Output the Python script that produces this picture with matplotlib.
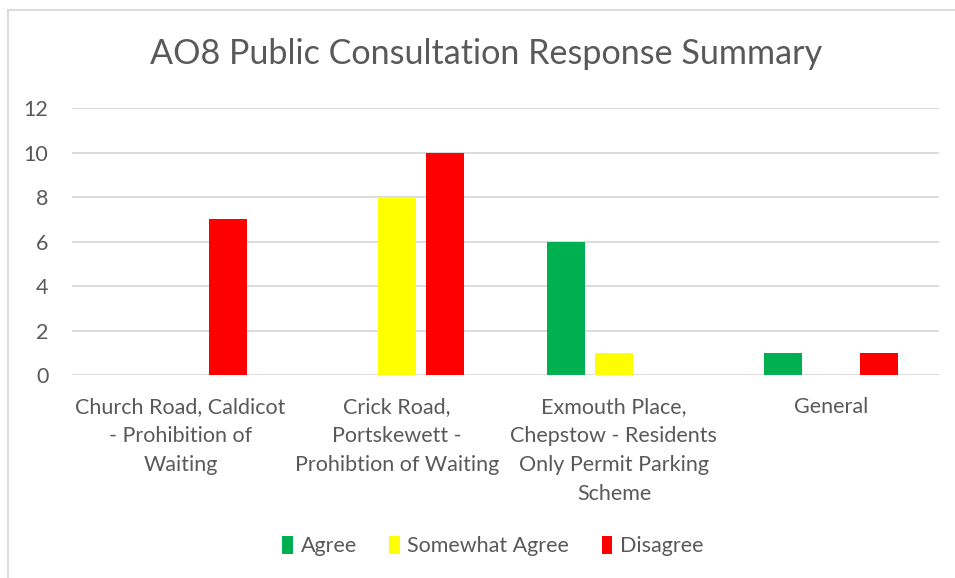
import numpy as np
import matplotlib.pyplot as plt
from matplotlib.lines import Line2D

plt.rcParams['font.family'] = ['Lato', 'DejaVu Sans']

categories = ['Church Road, Caldicot\n- Prohibition of\nWaiting',
              'Crick Road,\nPortskewett -\nProhibtion of Waiting',
              'Exmouth Place,\nChepstow - Residents\nOnly Permit Parking\nScheme',
              'General']
agree = [0, 0, 6, 1]
somewhat = [0, 8, 1, 0]
disagree = [7, 10, 0, 1]
series = ['Agree', 'Somewhat Agree', 'Disagree']
colors = ['#00B050', '#FFFF00', '#FF0000']

txt = '#595959'
fig = plt.figure(figsize=(9.55, 5.78), dpi=100)
ax = fig.add_axes([0.0754, 0.3512, 0.9079, 0.4619])

x = np.arange(len(categories))
w = 0.175
step = 0.2215
for i, (vals, lab, c) in enumerate(zip([agree, somewhat, disagree], series, colors)):
    ax.bar(x + (i - 1) * step, vals, w, color=c, label=lab, zorder=3)

ax.set_xlim(-0.5, 3.5)
ax.set_ylim(0, 12)
ax.set_yticks(range(0, 13, 2))
ax.set_xticks(x)
ax.set_xticklabels(categories, fontsize=15.5, color=txt, linespacing=1.55)
ax.tick_params(axis='y', labelsize=15.5, labelcolor=txt, length=0, pad=17)
ax.tick_params(axis='x', length=0, pad=16)
ax.grid(axis='y', color='#D9D9D9', linewidth=1.3, zorder=0)
for s in ax.spines.values():
    s.set_visible(False)

fig.text(0.509, 0.907, 'AO8 Public Consultation Response Summary', ha='center', va='center',
         fontsize=24.6, color=txt)

fig.legend(loc='center', bbox_to_anchor=(0.516, 0.055), ncol=3, frameon=False,
           fontsize=15.5, labelcolor=txt, handlelength=0.5, handleheight=0.9,
           handletextpad=0.35, columnspacing=1.5)

# chart area border (top and left visible)
fig.add_artist(Line2D([8 / 955, 8 / 955], [0, 1 - 10 / 578], transform=fig.transFigure,
                      color='#D9D9D9', lw=1.3))
fig.add_artist(Line2D([8 / 955, 1], [1 - 10 / 578, 1 - 10 / 578], transform=fig.transFigure,
                      color='#D9D9D9', lw=1.3))

plt.savefig('out.png', dpi=100)
